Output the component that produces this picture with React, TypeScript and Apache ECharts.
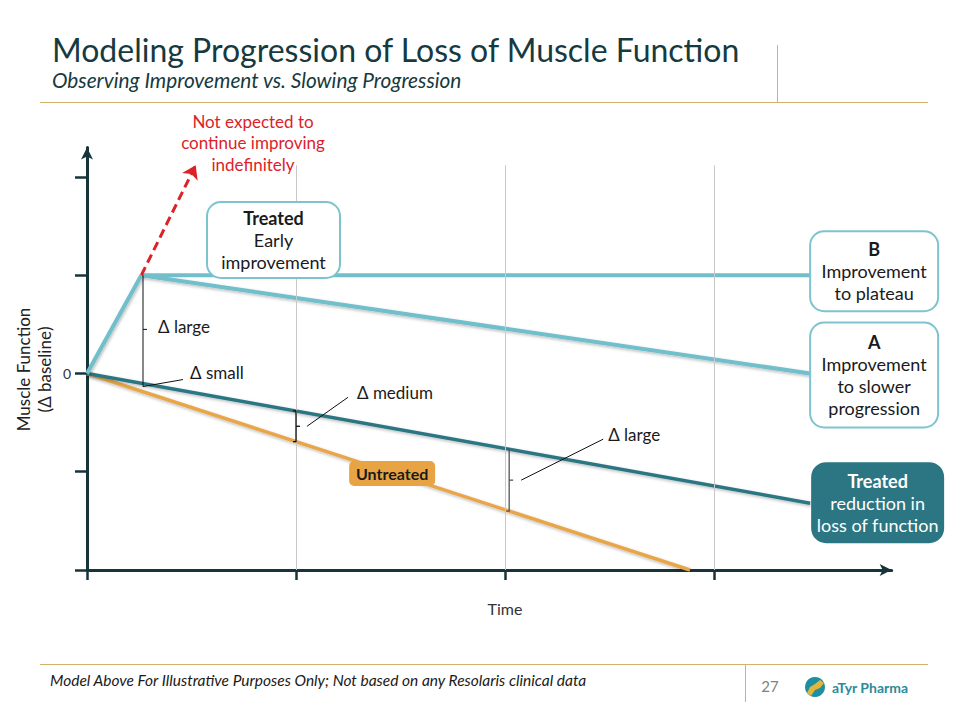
import React, { useEffect, useRef } from "react";
import * as echarts from "echarts";

// ---------------- data ----------------
const timeTicks = [0, 1, 2, 3];
const functionTicks = [-2, -1, 0, 1, 2];
const functionLabels = [0];
const earlyImprovement: number[][] = [[0, 0], [0.26, 1.0]];
const plateauB: number[][] = [[0.26, 1.0], [3.46, 1.0]];
const slowerProgressionA: number[][] = [[0.26, 1.0], [3.46, 0.0]];
const treatedReduction: number[][] = [[0, 0], [3.46, -1.32]];
const untreated: number[][] = [[0, 0], [2.885, -2.0]];
const notExpected: number[][] = [[0.26, 1.0], [0.52, 2.12]];
const gridLineTop = 2.12;
const bracketXs = [0.268, 1.0, 2.02];
const untreatedLabelX = 1.46;

const FONT = "Lato, 'Open Sans', sans-serif";
const AXIS = "#17343a";
const LIGHT = "#70bfcb";
const DARK = "#2b7682";
const ORANGE = "#e8a64a";
const RED = "#dc2229";
const GOLD = "#d4b071";
const TITLE = "#173a40";

function valueAt(pts: number[][], x: number): number {
  const [a, b] = pts;
  const t = (x - a[0]) / (b[0] - a[0]);
  return a[1] + t * (b[1] - a[1]);
}

function txt(x: number, y: number, text: string, o: any = {}) {
  const align = o.align || "center";
  return {
    type: "text",
    x,
    y,
    z: 100,
    rotation: o.rotation || 0,
    style: {
      text,
      fill: o.color || "#1a1a1a",
      fontSize: o.size || 17,
      fontFamily: FONT,
      fontWeight: o.bold ? "bold" : "normal",
      fontStyle: o.italic ? "italic" : "normal",
      align,
      textAlign: align,
      verticalAlign: "middle",
      textVerticalAlign: "middle",
    },
  };
}

function line(x1: number, y1: number, x2: number, y2: number, stroke: string, w = 1) {
  return {
    type: "line",
    z: 95,
    shape: { x1, y1, x2, y2 },
    style: { stroke, lineWidth: w },
  };
}

function box(
  left: number,
  top: number,
  w: number,
  h: number,
  lines: { t: string; b?: boolean }[],
  fill: string,
  stroke: string,
  color: string
) {
  const els: any[] = [
    {
      type: "rect",
      z: 90,
      shape: { x: left, y: top, width: w, height: h, r: 14 },
      style: { fill, stroke, lineWidth: 2 },
    },
  ];
  lines.forEach((l, i) => {
    els.push(
      txt(left + w / 2, top + h / 2 + (i - (lines.length - 1) / 2) * 22, l.t, {
        bold: l.b,
        size: 18,
        color,
      })
    );
  });
  return els;
}

const shadow = {
  shadowColor: "rgba(0,0,0,0.28)",
  shadowBlur: 3,
  shadowOffsetX: 1,
  shadowOffsetY: 1.5,
};

export default function App() {
  const ref = useRef<HTMLDivElement>(null);

  useEffect(() => {
    if (!ref.current) return;
    const chart = echarts.init(ref.current, null, { renderer: "svg" });

    const option: any = {
      animation: false,
      backgroundColor: "#ffffff",
      grid: { left: 87, right: 68.35, top: 147.5, bottom: 150 },
      xAxis: {
        type: "value",
        min: 0,
        max: 3.85,
        interval: 1,
        axisLine: {
          show: true,
          onZero: false,
          symbol: ["none", "arrow"],
          symbolSize: [9, 12],
          lineStyle: { color: AXIS, width: 3 },
        },
        axisTick: {
          show: true,
          customValues: timeTicks,
          length: 10,
          lineStyle: { color: AXIS, width: 2.5 },
        },
        axisLabel: { show: false },
        splitLine: { show: false },
      },
      yAxis: {
        type: "value",
        min: -2,
        max: 2.3,
        interval: 1,
        axisLine: {
          show: true,
          onZero: false,
          symbol: ["none", "arrow"],
          symbolSize: [9, 12],
          lineStyle: { color: AXIS, width: 3 },
        },
        axisTick: {
          show: true,
          customValues: functionTicks,
          length: 12,
          lineStyle: { color: AXIS, width: 2.5 },
        },
        axisLabel: {
          customValues: functionLabels,
          margin: 16,
          fontSize: 14,
          color: "#333",
          fontFamily: FONT,
        },
        splitLine: { show: false },
      },
      series: [
        {
          name: "gridlines",
          type: "line",
          data: [],
          z: 1,
          markLine: {
            silent: true,
            symbol: ["none", "none"],
            label: { show: false },
            lineStyle: { color: "#c9c9c9", width: 1, type: "solid" },
            data: timeTicks
              .filter((t) => t > 0)
              .map((t) => [{ coord: [t, -2] }, { coord: [t, gridLineTop] }]),
          },
        },
        {
          name: "Untreated",
          type: "line",
          data: untreated,
          symbol: "none",
          z: 2,
          lineStyle: { color: ORANGE, width: 3.5, ...shadow },
        },
        {
          name: "Treated reduction",
          type: "line",
          data: treatedReduction,
          symbol: "none",
          z: 3,
          lineStyle: { color: DARK, width: 3.5, ...shadow },
        },
        {
          name: "A",
          type: "line",
          data: slowerProgressionA,
          symbol: "none",
          z: 4,
          lineStyle: { color: LIGHT, width: 4, ...shadow },
        },
        {
          name: "B",
          type: "line",
          data: plateauB,
          symbol: "none",
          z: 4,
          lineStyle: { color: LIGHT, width: 4 },
        },
        {
          name: "Early improvement",
          type: "line",
          data: earlyImprovement,
          symbol: "none",
          z: 5,
          lineStyle: { color: LIGHT, width: 4, ...shadow },
        },
        {
          name: "Not expected",
          type: "line",
          data: [],
          z: 6,
          markLine: {
            silent: true,
            symbol: ["none", "arrow"],
            symbolSize: 13,
            label: { show: false },
            lineStyle: { color: RED, width: 3, type: [9, 5] },
            data: [[{ coord: notExpected[0] }, { coord: notExpected[1] }]],
          },
        },
      ],
    };
    chart.setOption(option);

    const px = (p: number[]) =>
      chart.convertToPixel({ gridIndex: 0 }, p) as unknown as number[];

    const g: any[] = [];

    // Header
    g.push(txt(52, 49, "Modeling Progression of Loss of Muscle Function", { align: "left", size: 32, color: TITLE }));
    g.push(txt(52, 79, "Observing Improvement vs. Slowing Progression", { align: "left", size: 20.8, italic: true, color: TITLE }));
    g.push(line(40, 102.5, 928, 102.5, GOLD, 1));
    g.push(line(777.5, 45, 777.5, 102, GOLD, 1));
    // Footer
    g.push(line(40, 664.5, 928, 664.5, GOLD, 1));
    g.push(line(745.5, 664, 745.5, 702, GOLD, 1));
    g.push(txt(50, 680, "Model Above For Illustrative Purposes Only; Not based on any Resolaris clinical data", { align: "left", size: 15.5, italic: true, color: "#1a1a1a" }));
    g.push(txt(770, 686, "27", { size: 15, color: "#808080" }));
    g.push({ type: "circle", z: 100, shape: { cx: 815, cy: 687, r: 10 }, style: { fill: "#1d8fa0" } });
    g.push({
      type: "polygon",
      z: 101,
      shape: { points: [[807, 693], [810, 687], [815, 684], [820, 680], [824, 683], [820, 688], [815, 690], [811, 696]] },
      style: { fill: "#e3b53a" },
    });
    g.push(txt(832, 687, "aTyr Pharma", { align: "left", size: 14, bold: true, color: "#2a8b9b" }));

    // Axis names
    const tp = px([2, -2]);
    g.push(txt(tp[0], tp[1] + 38, "Time", { size: 16, color: "#333" }));
    const zp = px([0, 0]);
    g.push(txt(23, zp[1] - 4, "Muscle Function", { size: 17, color: "#222", rotation: Math.PI / 2 }));
    g.push(txt(44, zp[1] - 4, "(\u0394 baseline)", { size: 17, color: "#222", rotation: Math.PI / 2 }));

    // Red annotation
    ["Not expected to", "continue improving", "indefinitely"].forEach((t, i) =>
      g.push(txt(253, 121 + i * 21.5, t, { size: 17, color: RED }))
    );

    // Early improvement box
    g.push(...box(207, 202, 133, 76, [{ t: "Treated", b: true }, { t: "Early" }, { t: "improvement" }], "#ffffff", "#7ec4ce", "#1a1a1a"));

    // Right boxes anchored at line ends
    const bEnd = px(plateauB[1]);
    g.push(...box(bEnd[0], bEnd[1] - 44, 128, 80, [{ t: "B", b: true }, { t: "Improvement" }, { t: "to plateau" }], "#ffffff", "#7ec4ce", "#1a1a1a"));
    const aEnd = px(slowerProgressionA[1]);
    g.push(...box(aEnd[0], aEnd[1] - 51, 128, 105, [{ t: "A", b: true }, { t: "Improvement" }, { t: "to slower" }, { t: "progression" }], "#ffffff", "#7ec4ce", "#1a1a1a"));
    const tEnd = px(treatedReduction[1]);
    g.push(...box(tEnd[0] + 2, tEnd[1] - 40, 131, 79, [{ t: "Treated", b: true }, { t: "reduction in" }, { t: "loss of function" }], DARK, DARK, "#ffffff"));

    // Untreated label
    const uPos = px([untreatedLabelX, valueAt(untreated, untreatedLabelX)]);
    g.push({ type: "rect", z: 90, shape: { x: uPos[0] - 43, y: uPos[1] - 12, width: 86, height: 25, r: 5 }, style: { fill: "#e8a444" } });
    g.push(txt(uPos[0], uPos[1] + 0.5, "Untreated", { size: 16, bold: true, color: "#1a1a1a" }));

    // Brackets
    const b1Top = px([bracketXs[0], plateauB[0][1]]);
    const b1Bot = px([bracketXs[0], valueAt(treatedReduction, bracketXs[0])]);
    const b1Mid = (b1Top[1] + b1Bot[1]) / 2;
    g.push(line(b1Top[0], b1Top[1], b1Bot[0], b1Bot[1] + 3, "#111", 1));
    g.push(line(b1Top[0], b1Mid, b1Top[0] + 4, b1Mid, "#111", 1));
    g.push(txt(b1Top[0] + 15, b1Mid - 3, "\u0394 large", { align: "left", size: 17 }));
    g.push(line(b1Bot[0], b1Bot[1] + 3, b1Bot[0] + 40, b1Bot[1] - 4, "#111", 1));
    g.push(txt(b1Bot[0] + 47, b1Bot[1] - 11, "\u0394 small", { align: "left", size: 17 }));

    [1, 2].forEach((k) => {
      const x = bracketXs[k];
      const top = px([x, valueAt(treatedReduction, x)]);
      const bot = px([x, valueAt(untreated, x)]);
      const mid = (top[1] + bot[1]) / 2;
      const col = k === 1 ? "#111" : "#555";
      g.push({
        type: "polyline",
        z: 95,
        shape: { points: [[top[0] - 3, top[1]], [top[0], top[1]], [bot[0], bot[1]], [bot[0] - 3, bot[1]]] },
        style: { stroke: col, lineWidth: 1.3, fill: "none" },
      });
      g.push(line(top[0], mid, top[0] + 4, mid, col, 1.3));
      if (k === 1) {
        g.push(line(top[0] + 11, mid, top[0] + 52, mid - 29, "#111", 1));
        g.push(txt(top[0] + 61, mid - 34, "\u0394 medium", { align: "left", size: 17 }));
      } else {
        g.push(line(top[0] + 12, mid, top[0] + 94, mid - 41, "#111", 1));
        g.push(txt(top[0] + 99, mid - 46, "\u0394 large", { align: "left", size: 17 }));
      }
    });

    chart.setOption({ graphic: { elements: g } });

    return () => chart.dispose();
  }, []);

  return (
    <div
      ref={ref}
      style={{ position: "fixed", left: 0, top: 0, width: 960, height: 720, background: "#fff" }}
    />
  );
}
